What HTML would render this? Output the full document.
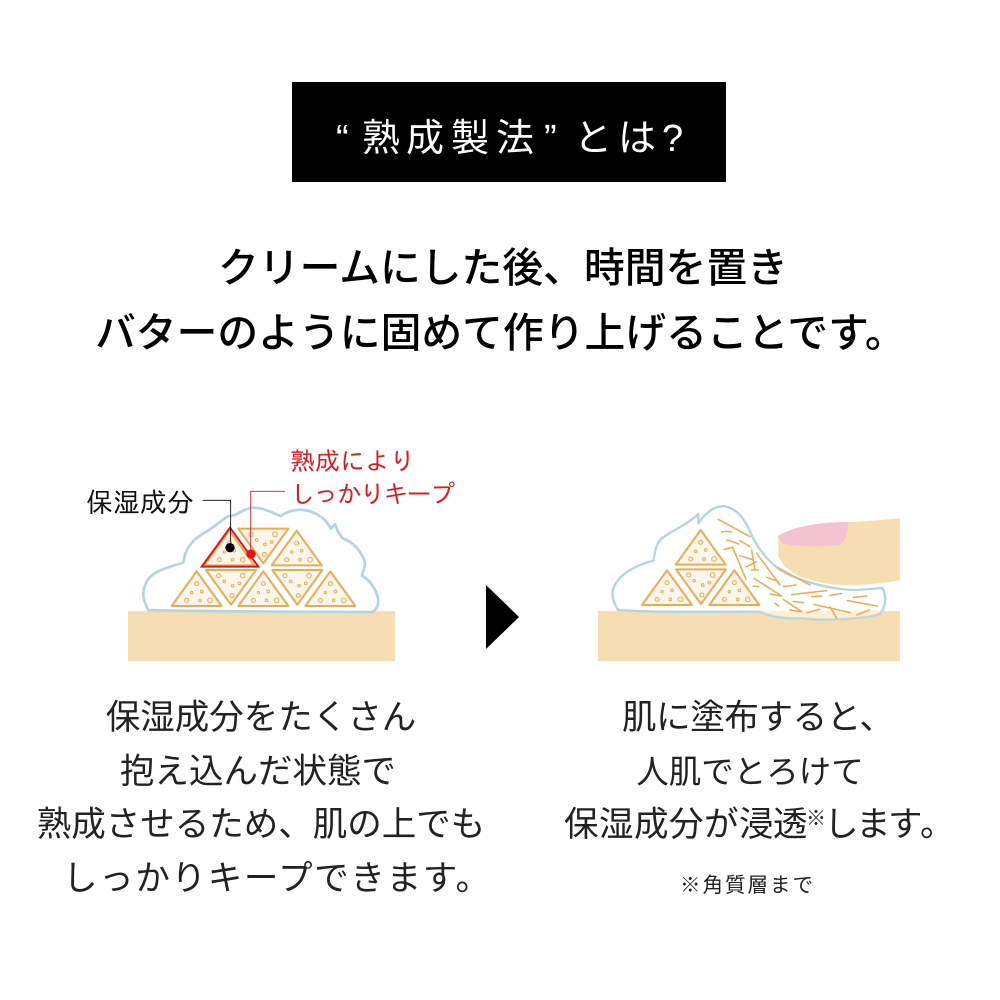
<!DOCTYPE html>
<html lang="ja"><head><meta charset="utf-8"><style>
html,body{margin:0;padding:0;background:#fff}
body{width:1000px;height:1000px;overflow:hidden;position:relative}
svg{position:absolute;left:0;top:0}
text{font-family:"Liberation Sans","Noto Sans CJK JP",sans-serif}
.h{font-size:40.8px;font-weight:500;fill:#000}
.b{font-size:34.5px;font-weight:400;text-anchor:middle;fill:#222}
.s{font-size:34.5px;font-weight:400;fill:#222}
.r{font-size:25px;fill:#e01a1f;font-family:"IPAGothic","Noto Sans CJK JP",sans-serif}
</style></head><body>
<svg width="1000" height="1000" viewBox="0 0 1000 1000" xmlns="http://www.w3.org/2000/svg">
<defs>
<g id="tu">
<path d="M0 52L75 -52L150 52Z" fill="#fbf6ec" stroke="#eeaa50" stroke-width="6" stroke-linejoin="round"/>
<g fill="#fdf3e0" stroke="#eeaa50" stroke-width="3">
<circle cx="75" cy="-15" r="6"/><circle cx="45" cy="35" r="6"/><circle cx="115" cy="35" r="7"/><circle cx="85" cy="35" r="4"/><circle cx="60" cy="12" r="3.5"/><circle cx="90" cy="8" r="4"/>
</g></g>
<g id="td">
<path d="M0 -52L150 -52L75 52Z" fill="#fbf6ec" stroke="#eeaa50" stroke-width="6" stroke-linejoin="round"/>
<g fill="#fdf3e0" stroke="#eeaa50" stroke-width="3">
<circle cx="38" cy="-35" r="6"/><circle cx="110" cy="-35" r="7"/><circle cx="80" cy="-5" r="4"/><circle cx="55" cy="-18" r="4"/><circle cx="78" cy="25" r="6"/><circle cx="100" cy="-12" r="4"/>
</g></g>
</defs>

<rect x="292" y="82" width="434" height="100" fill="#000"/>
<text x="336 362 406 451 496 544 574 618 662" y="151" fill="#fff" font-size="38" font-weight="400">“熟成製法”とは?</text>

<text class="h" x="218" y="282">クリームにした後、時間を置き</text>
<text class="h" x="95" y="347">バターのように固めて作り上げることです。</text>

<!-- left figure -->
<rect x="128" y="611" width="267" height="50" fill="#f6deb2"/>
<g transform="translate(70 430) scale(.33333)">
<path d="M235 540C218 510 212 480 235 447C255 420 300 412 340 397C345 360 360 335 400 310C430 295 455 270 475 258C495 262 515 238 545 233C580 232 610 250 632 258C660 238 700 232 735 250C760 262 775 280 782 296L795 283C802 300 808 315 818 325C850 335 875 365 885 398C885 415 878 425 876 437C900 450 920 480 925 510C925 530 918 540 908 546C700 545 400 545 235 540Z" fill="#fff" stroke="#b5d5de" stroke-width="8" stroke-linejoin="round"/>
<use href="#tu" x="305" y="476"/>
<use href="#td" x="408" y="472"/>
<use href="#tu" x="505" y="476"/>
<use href="#td" x="607" y="472"/>
<use href="#tu" x="706" y="476"/>
<use href="#tu" x="605" y="354"/>
<use href="#td" x="505" y="348"/>
<use href="#tu" x="403" y="354"/>
<path d="M395 410L480 293L565 410Z" fill="none" stroke="#e8141c" stroke-width="6"/>
<path d="M398 211H482V340" fill="none" stroke="#000" stroke-width="2.5"/>
<path d="M645 184H542V360" fill="none" stroke="#e8141c" stroke-width="2.5"/>
<circle cx="480" cy="353" r="14" fill="#000"/>
<circle cx="543" cy="372" r="14" fill="#e8141c"/>
</g>
<text x="86" y="512" font-size="27" fill="#111" style="font-family:'IPAGothic','Noto Sans CJK JP',sans-serif">保湿成分</text>
<text class="r" x="290" y="470">熟成により</text>
<text class="r" x="290" y="503" textLength="165">しっかりキープ</text>

<!-- arrow -->
<path d="M486 585L519 617L486 649Z" fill="#000"/>

<!-- right figure -->
<rect x="598" y="611" width="302" height="50" fill="#f6deb2"/>
<g transform="translate(590 490) scale(.33333)">
<path d="M930 85C860 92 790 97 700 100L565 135L565 200C590 250 650 275 730 283C800 290 880 280 930 270Z" fill="#f6deb2"/>
<path d="M562 140C600 112 680 96 775 96C772 130 770 150 750 165C690 172 620 170 578 160Z" fill="#f4c3d2"/>
<path d="M85 360C70 340 62 310 72 290C90 250 140 225 190 212C195 190 195 165 215 145C250 120 290 105 325 72L325 100C345 70 370 50 400 48C440 55 460 80 480 125C500 170 530 210 570 240C620 270 720 300 800 300L878 294C890 320 888 350 870 372C810 388 700 392 640 385C600 385 550 385 510 365C350 365 200 368 85 360Z" fill="#fff" stroke="#b5d5de" stroke-width="7" stroke-linejoin="round"/>
<path d="M510 365C560 385 620 385 700 388C760 392 820 385 870 372L880 362L510 362Z" fill="#f6deb2" opacity=".45"/>
<use href="#tu" x="257" y="172"/>
<use href="#td" x="258" y="290"/>
<use href="#tu" x="156" y="293"/>
<use href="#tu" x="358" y="293"/>
<g fill="none" stroke="#eeaa50" stroke-width="4.5" stroke-linecap="round">
<path d="M385 88L480 140M395 126Q410 122 425 126M410 150Q430 155 445 162M450 152L480 170M402 178L428 172L468 268M450 197L490 210M485 180L495 240M500 190L570 285M485 240L505 240M470 230L500 215M530 262L565 275M562 232L660 285M580 290L618 285M490 288L505 290M492 265L575 318M540 312L570 318M605 314L710 302M665 320L695 318M720 316L755 310M580 328L635 365M610 334L640 338M555 340L566 348M600 360L630 365M650 368L690 358M672 343L780 368M720 350L740 385M772 332L862 348M790 322L830 318M800 375L838 360"/>
</g>
</g>

<text class="b" x="261" y="729">保湿成分をたくさん</text>
<text class="b" x="258" y="783">抱え込んだ状態で</text>
<text class="b" x="261" y="836">熟成させるため、肌の上でも</text>
<text class="s" x="63" y="890" textLength="427">しっかりキープできます。</text>
<text class="s" x="622" y="729" textLength="272">肌に塗布すると、</text>
<text class="b" x="750" y="783" style="font-size:32.5px">人肌でとろけて</text>
<text class="s" x="564 599 634 669 704 739 773" y="836">保湿成分が浸透</text>
<text x="806" y="825" font-size="20" font-weight="400" fill="#222">※</text>
<text class="s" x="824 856 888 920" y="836">します。</text>
<text x="680" y="892" font-size="20.5" font-weight="400" fill="#222" textLength="133">※角質層まで</text>
</svg>
</body></html>
